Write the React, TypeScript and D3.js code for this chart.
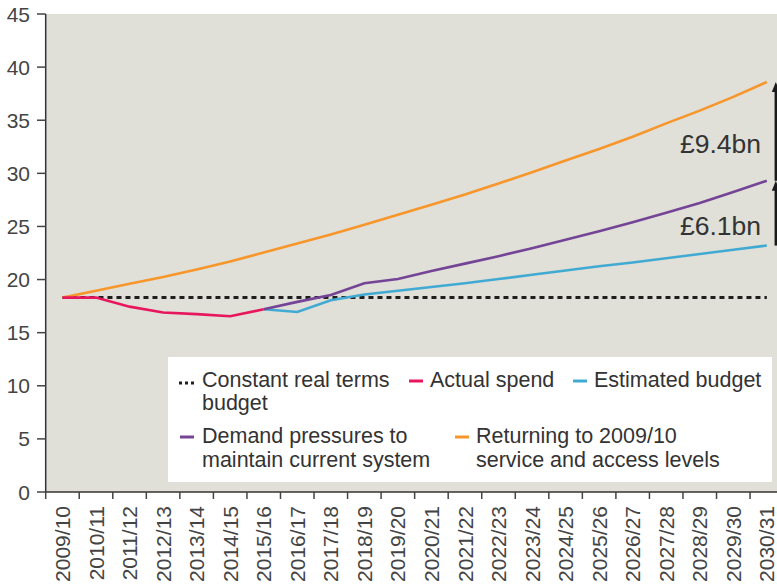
import React from 'react';
import * as d3 from 'd3';

// financial years on the x axis
const years = [
  '2009/10', '2010/11', '2011/12', '2012/13', '2013/14', '2014/15', '2015/16',
  '2016/17', '2017/18', '2018/19', '2019/20', '2020/21', '2021/22', '2022/23',
  '2023/24', '2024/25', '2025/26', '2026/27', '2027/28', '2028/29', '2029/30', '2030/31'
];

// £bn
const constantBudget = [
  18.3, 18.3, 18.3, 18.3, 18.3, 18.3, 18.3, 18.3, 18.3, 18.3, 18.3,
  18.3, 18.3, 18.3, 18.3, 18.3, 18.3, 18.3, 18.3, 18.3, 18.3, 18.3
];
const actualYears = years.slice(0, 7);
const actualSpend = [18.3, 18.3, 17.45, 16.9, 16.75, 16.55, 17.2];

const projYears = years.slice(6);
const estimatedBudget = [
  17.2, 16.95, 18.05, 18.6, 18.95, 19.3, 19.65, 20.05,
  20.45, 20.85, 21.25, 21.6, 22.0, 22.4, 22.8, 23.2
];
const demandPressures = [
  17.2, 17.9, 18.55, 19.65, 20.05, 20.8, 21.5, 22.2,
  22.95, 23.75, 24.55, 25.4, 26.3, 27.2, 28.25, 29.3
];
const returningLevels = [
  18.3, 18.95, 19.6, 20.25, 20.95, 21.7, 22.55, 23.4, 24.25, 25.15, 26.1,
  27.05, 28.0, 29.05, 30.1, 31.2, 32.3, 33.45, 34.7, 35.9, 37.2, 38.6
];

const yTicks = [0, 5, 10, 15, 20, 25, 30, 35, 40, 45];
const gapLabels = ['£6.1bn', '£9.4bn'];

const colors = {
  constant: '#1e1e1e',
  actual: '#e8175d',
  estimated: '#41aad3',
  demand: '#744496',
  returning: '#f7962a'
};

const W = 777, H = 587;
const font = '"Liberation Sans", Arial, sans-serif';

export default function App() {
  const x = d3.scaleBand<string>().domain(years).range([45.7, 783.6]);
  const y = d3.scaleLinear().domain([0, 45]).range([492, 14]);
  const cx = (yr: string) => (x(yr) as number) + x.bandwidth() / 2;

  const line = d3.line<[string, number]>()
    .x(d => cx(d[0]))
    .y(d => y(d[1]));
  const zip = (ks: string[], vs: number[]) => ks.map((k, i) => [k, vs[i]] as [string, number]);

  const last = years[years.length - 1];
  const arrowX = cx(last) + 9;
  const lastEst = estimatedBudget[estimatedBudget.length - 1];
  const lastDem = demandPressures[demandPressures.length - 1];
  const lastRet = returningLevels[returningLevels.length - 1];

  const arrow = (v0: number, v1: number, key: string) => {
    const y0 = y(v0), y1 = y(v1);
    return (
      <g key={key}>
        <line x1={arrowX} x2={arrowX} y1={y0} y2={y1 + 6} stroke="#1a1a1a" strokeWidth={2.5} />
        <path d={`M${arrowX},${y1} L${arrowX - 4},${y1 + 10} L${arrowX + 4},${y1 + 10} Z`} fill="#1a1a1a" />
      </g>
    );
  };

  const txt = { fontFamily: font, fontSize: 21.5, fill: '#333' };
  const axisTxt = { fontFamily: font, fontSize: 21, fill: '#444' };

  return (
    <svg width={W} height={H} style={{ position: 'absolute', left: 0, top: 0, background: '#fff' }}>
      <rect x={45.7} y={14} width={W - 45.7} height={478} fill="#e0dfd8" />

      {/* legend box */}
      <rect x={168} y={357} width={604} height={125} fill="#fff" />

      {/* series */}
      <path d={line(zip(years, constantBudget)) as string} fill="none"
        stroke={colors.constant} strokeWidth={3} strokeDasharray="5,4" />
      <path d={line(zip(years, returningLevels)) as string} fill="none" stroke={colors.returning} strokeWidth={2.6} />
      <path d={line(zip(projYears, estimatedBudget)) as string} fill="none" stroke={colors.estimated} strokeWidth={2.6} />
      <path d={line(zip(projYears, demandPressures)) as string} fill="none" stroke={colors.demand} strokeWidth={2.6} />
      <path d={line(zip(actualYears, actualSpend)) as string} fill="none" stroke={colors.actual} strokeWidth={2.6} />

      {/* gap arrows and labels */}
      {arrow(lastEst, lastDem, 'a1')}
      {arrow(lastDem, lastRet, 'a2')}
      <text x={761} y={235} textAnchor="end" style={{ ...txt, fontSize: 26.5 }}>{gapLabels[0]}</text>
      <text x={761} y={153} textAnchor="end" style={{ ...txt, fontSize: 26.5 }}>{gapLabels[1]}</text>

      {/* y axis */}
      <line x1={45.7} x2={45.7} y1={14} y2={492} stroke="#333" strokeWidth={1.5} />
      {yTicks.map(t => (
        <g key={t}>
          <line x1={37} x2={45.7} y1={y(t)} y2={y(t)} stroke="#444" strokeWidth={1.5} />
          <text x={30} y={y(t)} dy="0.36em" textAnchor="end" style={axisTxt}>{t}</text>
        </g>
      ))}

      {/* x axis */}
      <line x1={45.7} x2={W} y1={492} y2={492} stroke="#333" strokeWidth={1.5} />
      {years.map(yr => (
        <g key={yr}>
          <line x1={x(yr)} x2={x(yr)} y1={492} y2={499} stroke="#444" strokeWidth={1.5} />
          <text transform={`translate(${cx(yr)},506) rotate(-90)`} dy="0.36em" textAnchor="end"
            style={axisTxt}>{yr}</text>
        </g>
      ))}

      {/* legend */}
      <line x1={179} x2={197} y1={383} y2={383} stroke={colors.constant} strokeWidth={3} strokeDasharray="3,3" />
      <text x={202} y={387} style={txt}>
        <tspan x={202}>Constant real terms</tspan>
        <tspan x={202} dy={23}>budget</tspan>
      </text>
      <line x1={409} x2={423} y1={381} y2={381} stroke={colors.actual} strokeWidth={3} />
      <text x={430} y={387} style={txt}>Actual spend</text>
      <line x1={573} x2={587} y1={381} y2={381} stroke={colors.estimated} strokeWidth={3} />
      <text x={594} y={387} style={txt}>Estimated budget</text>

      <line x1={180} x2={194} y1={437} y2={437} stroke={colors.demand} strokeWidth={3} />
      <text x={202} y={443} style={txt}>
        <tspan x={202}>Demand pressures to</tspan>
        <tspan x={202} dy={23.5}>maintain current system</tspan>
      </text>
      <line x1={455} x2={469} y1={437} y2={437} stroke={colors.returning} strokeWidth={3} />
      <text x={476} y={443} style={txt}>
        <tspan x={476}>Returning to 2009/10</tspan>
        <tspan x={476} dy={23.5}>service and access levels</tspan>
      </text>
    </svg>
  );
}
